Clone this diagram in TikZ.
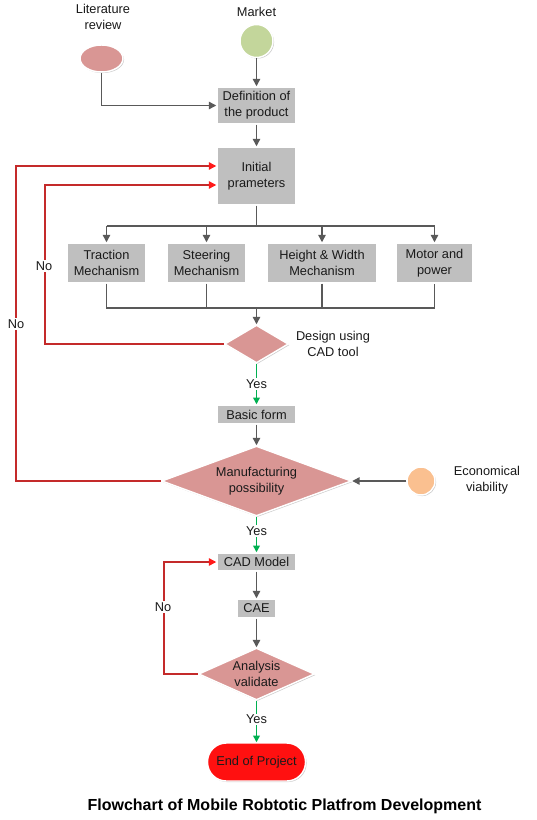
\documentclass[tikz,border=0pt]{standalone}
\usepackage{fontspec}
\setmainfont{Liberation Sans}
\usetikzlibrary{arrows.meta,shapes.geometric,shadows,calc}
\newlength\pxl \setlength\pxl{0.75pt}
\definecolor{boxgray}{HTML}{BFBFBF}
\definecolor{pinkd}{HTML}{D99694}
\definecolor{mktgreen}{HTML}{C3D69B}
\definecolor{ecoorange}{HTML}{FAC090}
\definecolor{endred}{HTML}{FF1010}
\definecolor{linegray}{HTML}{595959}
\definecolor{loopred}{HTML}{C42A2A}
\definecolor{tipred}{HTML}{FF1A1A}
\definecolor{yesgreen}{HTML}{00B050}
\definecolor{txt}{HTML}{1A1A1A}
\begin{document}
\begin{tikzpicture}[x=0.75pt,y=-0.75pt,
  font=\fontsize{9.6}{12.2}\selectfont, text=txt,
  shad/.style={drop shadow={shadow xshift=0.8pt,shadow yshift=-0.8pt,fill=black,opacity=0.2}},
  gbox/.style={rectangle,fill=boxgray,draw=white,line width=1.1pt,inner sep=0pt,align=center,shad},
  dia/.style={diamond,fill=pinkd,draw=white,line width=1.1pt,inner sep=0pt,shad},
  blob/.style={fill=#1,draw=white,line width=1.1pt,inner sep=0pt,shad},
  plain/.style={inner sep=0pt,align=center},
  conn/.style={draw=linegray,line width=1pt,-{Triangle[length=5.5pt,width=5.5pt]}},
  cline/.style={draw=linegray,line width=1pt},
  yesline/.style={draw=yesgreen,line width=1pt,-{Triangle[length=5pt,width=5pt]}},
  noline/.style={draw=loopred,line width=1pt,-{Triangle[length=5.5pt,width=5.5pt,color=tipred]}},
  lab/.style={fill=white,inner sep=1pt}
]
\useasboundingbox[fill=white] (0,0) rectangle (536,820);

% sources
\node[plain] (littext) at (103,17) {Literature\\review};
\node[ellipse,blob=pinkd,minimum width=43\pxl,minimum height=27\pxl] (lit) at (101.5,58.5) {};
\node[plain] (mkttext) at (256.5,12) {Market};
\node[circle,blob=mktgreen,minimum size=33\pxl] (mkt) at (256.5,41) {};

% boxes
\node[gbox,minimum width=79\pxl,minimum height=37\pxl] (def) at (256.5,105.5) {Definition of\\the product};
\node[gbox,minimum width=79\pxl,minimum height=58\pxl] (init) at (256.5,176) {Initial\\prameters};
\node[gbox,minimum width=79\pxl,minimum height=40\pxl] (tr) at (106.5,263) {Traction\\Mechanism};
\node[gbox,minimum width=79\pxl,minimum height=40\pxl] (st) at (206.5,263) {Steering\\Mechanism};
\node[gbox,minimum width=110\pxl,minimum height=40\pxl] (hw) at (322,263) {Height \& Width\\Mechanism};
\node[gbox,minimum width=77\pxl,minimum height=40\pxl] (mp) at (434.5,263) {Motor and\\power};

\node[dia,minimum width=64\pxl,minimum height=38\pxl] (d1) at (256.5,344) {};
\node[plain] (d1text) at (333,344) {Design using\\CAD tool};
\node[gbox,minimum width=79\pxl,minimum height=19\pxl] (basic) at (256.5,414.5) {Basic form};
\node[dia,minimum width=190\pxl,minimum height=70\pxl,label={[plain]center:Manufacturing\\possibility}] (d2) at (256.5,481) {};
\node[circle,blob=ecoorange,minimum size=28\pxl] (eco) at (421,481) {};
\node[plain] (ecotext) at (487,480) {Economical\\viability};
\node[gbox,minimum width=79\pxl,minimum height=18\pxl] (cad) at (256.5,562) {CAD Model};
\node[gbox,minimum width=39\pxl,minimum height=19\pxl] (cae) at (256.5,608.5) {CAE};
\node[dia,minimum width=116\pxl,minimum height=52\pxl,label={[plain]center:Analysis\\validate}] (d3) at (256.5,674) {};
\node[rectangle,rounded corners=14pt,blob=endred,minimum width=98\pxl,minimum height=38\pxl] (end) at (256.5,762) {End of Project};

\node[plain,font=\bfseries\fontsize{12}{14}\selectfont,text=black] (title) at (284.5,806) {Flowchart of Mobile Robtotic Platfrom Development};

% coordinates
\coordinate (br) at (256.5,226);
\coordinate (mg) at (256.5,308);
\coordinate (nl1) at (45,185);
\coordinate (nl2) at (16,166);
\coordinate (nl3) at (164,562);

% gray connectors
\draw[conn] (mkt.south) -- (def.north);
\draw[conn] (lit.south) |- (def.west);
\draw[conn] (def.south) -- (init.north);
\draw[cline] (init.south) -- (br);
\draw[cline] (tr.north |- br) -- (mp.north |- br);
\draw[conn] (tr.north |- br) -- (tr.north);
\draw[conn] (st.north |- br) -- (st.north);
\draw[conn] (hw.north |- br) -- (hw.north);
\draw[conn] (mp.north |- br) -- (mp.north);
\draw[cline] (tr.south) -- (tr.south |- mg) -- (mp.south |- mg) -- (mp.south);
\draw[cline] (st.south) -- (st.south |- mg);
\draw[cline] (hw.south) -- (hw.south |- mg);
\draw[conn] (mg) -- (d1.north);
\draw[conn] (basic.south) -- (d2.north);
\draw[conn] (eco.west) -- (d2.east);
\draw[conn] (cad.south) -- (cae.north);
\draw[conn] (cae.south) -- (d3.north);

% yes connectors
\draw[yesline] (d1.south) -- node[lab]{Yes} (basic.north);
\draw[yesline] (d2.south) -- node[lab,pos=0.4]{Yes} (cad.north);
\draw[yesline] (d3.south) -- node[lab,pos=0.45]{Yes} (end.north);

% no loops
\draw[noline] (d1.west) -| (nl1) -- (init.west |- nl1);
\draw[noline] (d2.west) -| (nl2) -- (init.west |- nl2);
\draw[noline] (d3.west) -| (nl3) -- (cad.west);
\node[lab] (no1) at (44,266) {No};
\node[lab] (no2) at (16,324) {No};
\node[lab] (no3) at (163,607) {No};
\end{tikzpicture}
\end{document}
